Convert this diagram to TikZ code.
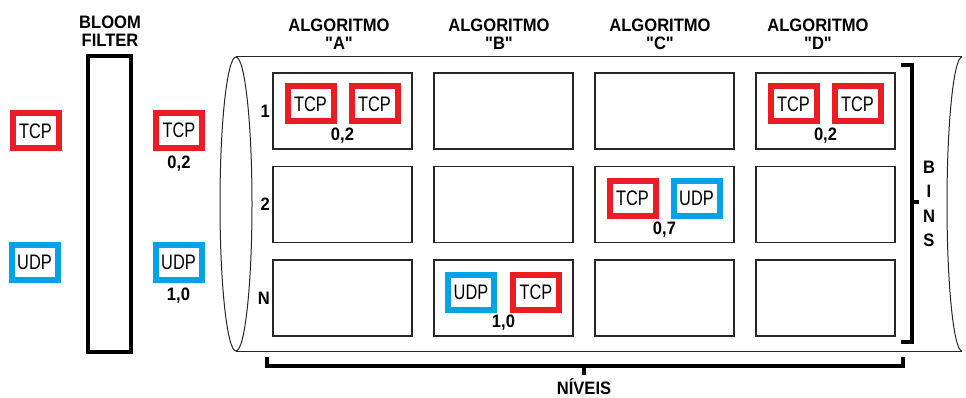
\documentclass[tikz,border=0pt]{standalone}
\usepackage{fontspec}
\setmainfont{Liberation Sans}
\newfontfamily\pktfont[FakeStretch=0.78]{Liberation Sans}
\newfontfamily\lblfont[FakeStretch=0.92]{Liberation Sans}
\usepackage{xcolor}
\usepackage{tikz}
\usetikzlibrary{positioning, calc}
\definecolor{tcpred}{RGB}{237,28,36}
\definecolor{udpblue}{RGB}{0,162,232}
\tikzset{
    cell/.style={
        rectangle,
        draw=black!85,
        line width=1.3pt,
        minimum width=139pt,
        minimum height=76pt,
        inner sep=0pt,
        outer sep=0pt
    },
    packet/.style={
        rectangle,
        line width=6pt,
        minimum width=46pt,
        minimum height=35pt,
        inner sep=0pt,
        fill=white,
        font=\pktfont\fontsize{21}{21}\selectfont
    },
    tcp/.style={packet, draw=tcpred},
    udp/.style={packet, draw=udpblue},
    score/.style={
        inner sep=0pt,
        font=\lblfont\bfseries\fontsize{18}{18}\selectfont
    },
    header/.style={
        align=center,
        inner sep=0pt,
        font=\lblfont\bfseries\fontsize{18}{18}\selectfont
    },
    filter/.style={
        rectangle,
        draw=black,
        line width=4pt,
        minimum width=43pt,
        minimum height=296pt
    },
    bracket/.style={
        draw=black,
        line width=4pt
    },
    tube/.style={
        draw=black!85,
        line width=1pt
    }
}

\begin{document}
\begin{tikzpicture}[x=1pt, y=-1pt, node distance=17.5pt and 22pt]
\useasboundingbox (0,0) rectangle (966,398);

% Tube holding the bins
\coordinate (tubeL) at (236,204);
\coordinate (tubeR) at (962,204);
\draw[tube] (236,57) -- (962,57);
\draw[tube] (236,351) -- (962,351);
\draw[tube] (tubeL) ellipse [x radius=16, y radius=147];
\draw[tube] (962,351) arc [start angle=90, end angle=270, x radius=15, y radius=147];

% Incoming packets and bloom filter
\node[tcp] (intcp) at (35.5,131) {TCP};
\node[udp] (inudp) at (34.5,262) {UDP};
\node[filter] (bloom) at (109.5,204) {};
\node[header] (bloomlbl) at (110,31) {BLOOM\\FILTER};
\node[tcp] (outtcp) at (179,130.5) {TCP};
\node[score, below=5pt of outtcp] (outtcps) {0,2};
\node[udp] (outudp) at (178.5,262) {UDP};
\node[score, below=5pt of outudp] (outudps) {1,0};

% Grid of bins: columns = algorithms, rows = levels
\node[cell] (a1) at (342.5,111) {};
\node[cell, right=of a1] (b1) {};
\node[cell, right=of b1] (c1) {};
\node[cell, right=of c1] (d1) {};
\node[cell, below=of a1] (a2) {};
\node[cell, right=of a2] (b2) {};
\node[cell, right=of b2] (c2) {};
\node[cell, right=of c2] (d2) {};
\node[cell, below=of a2] (a3) {};
\node[cell, right=of a3] (b3) {};
\node[cell, right=of b3] (c3) {};
\node[cell, right=of c3] (d3) {};

% Row labels
\node[score, left=3pt of a1] (row1) {1};
\node[score, left=3pt of a2] (row2) {2};
\node[score, left=3pt of a3] (rown) {N};

% Column headers
\node[header] (hda) at (339,34) {ALGORITMO\\"A"};
\node[header] (hdb) at (499,34) {ALGORITMO\\"B"};
\node[header] (hdc) at (660,34) {ALGORITMO\\"C"};
\node[header] (hdd) at (818,34) {ALGORITMO\\"D"};

% Packets stored in the bins
\node[tcp] (a1p) at ([xshift=-32pt, yshift=7pt]a1.center) {TCP};
\node[tcp] (a1q) at ([xshift=32pt, yshift=7pt]a1.center) {TCP};
\node[score] (a1s) at ([yshift=-25pt]a1.center) {0,2};

\node[tcp] (d1p) at ([xshift=-32pt, yshift=7pt]d1.center) {TCP};
\node[tcp] (d1q) at ([xshift=32pt, yshift=7pt]d1.center) {TCP};
\node[score] (d1s) at ([yshift=-25pt]d1.center) {0,2};

\node[tcp] (c2p) at ([xshift=-32pt, yshift=6pt]c2.center) {TCP};
\node[udp] (c2q) at ([xshift=32pt, yshift=6pt]c2.center) {UDP};
\node[score] (c2s) at ([yshift=-25.5pt]c2.center) {0,7};

\node[udp] (b3p) at ([xshift=-32.5pt, yshift=6pt]b3.center) {UDP};
\node[tcp] (b3q) at ([xshift=32.5pt, yshift=6pt]b3.center) {TCP};
\node[score] (b3s) at ([yshift=-25pt]b3.center) {1,0};

% Brackets
\draw[bracket] (901,65) -- (912,65) -- (912,342) -- (901,342);
\draw[bracket] (912,202) -- (919,202);
\node[header, font=\lblfont\bfseries\fontsize{18}{24.3}\selectfont] (bins) at (929,204) {B\\I\\N\\S};

\draw[bracket] (267,357) -- (267,366) -- (903,366) -- (903,357);
\draw[bracket] (584,366) -- (584,375);
\node[header] (niveis) at (584,387) {NÍVEIS};

\end{tikzpicture}
\end{document}
